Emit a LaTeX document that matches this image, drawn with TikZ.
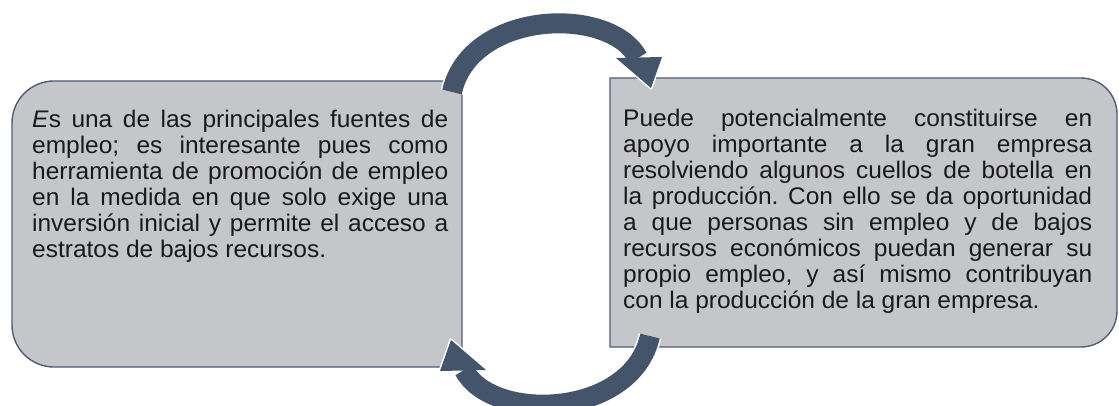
\documentclass[tikz,border=0pt]{standalone}
\usepackage{fontspec}
\setmainfont[FakeStretch=1.02]{Liberation Sans}
\definecolor{boxfill}{RGB}{197,198,202}
\definecolor{boxedge}{RGB}{80,94,118}
\definecolor{arrowcol}{RGB}{68,84,106}
\definecolor{txtcol}{RGB}{25,25,25}
\begin{document}
\frenchspacing
\begin{tikzpicture}[x=1pt,y=-1pt,
  boxshape/.style={fill=boxfill,draw=boxedge,line width=1.4pt},
  txt/.style={inner sep=0pt,anchor=north west,align=left,text=txtcol,
    font=\fontsize{24}{26}\selectfont},
  shaft/.style={draw=arrowcol,line width=20pt},
  halo/.style={draw=white,line width=23pt},
  headfill/.style={fill=arrowcol},
  headhalo/.style={fill=white,draw=white,line width=3pt,line join=round}]
\useasboundingbox (0,0) rectangle (1119,406);
\fill[white] (0,0) rectangle (1119,406);
% left box
\path[boxshape] (462,81) -- (462,367) -- (54,367)
  .. controls (30.8,367) and (12,348.2) .. (12,325) -- (12,123)
  .. controls (12,99.8) and (30.8,81) .. (54,81) -- cycle;
% right box
\path[boxshape] (610,78) -- (1081,78)
  .. controls (1100.9,78) and (1117,94.1) .. (1117,114) -- (1117,311)
  .. controls (1117,330.9) and (1100.9,347) .. (1081,347) -- (610,347) -- cycle;
% texts
\node (lt) [txt] at (32,109) {\rule{0pt}{18pt}\makebox[416pt][s]{\textit{E}s una de las principales fuentes de}\\
\makebox[416pt][s]{empleo; es interesante pues como}\\
\makebox[416pt][s]{herramienta de promoción de empleo}\\
\makebox[416pt][s]{en la medida en que solo exige una}\\
\makebox[416pt][s]{inversión inicial y permite el acceso a}\\
estratos de bajos recursos.};
\node (rt) [txt] at (623,108) {\rule{0pt}{18pt}\makebox[469pt][s]{Puede potencialmente constituirse en}\\
\makebox[469pt][s]{apoyo importante a la gran empresa}\\
\makebox[469pt][s]{resolviendo algunos cuellos de botella en}\\
\makebox[469pt][s]{la producción. Con ello se da oportunidad}\\
\makebox[469pt][s]{a que personas sin empleo y de bajos}\\
\makebox[469pt][s]{recursos económicos puedan generar su}\\
\makebox[469pt][s]{propio empleo, y así mismo contribuyan}\\
con la producción de la gran empresa.};
% arrows (top: left box -> right box; bottom: right box -> left box)
\foreach \ang/\nm in {0/top,180/bot}{
  \begin{scope}[rotate around={\ang:(551,214)}]
    \coordinate (\nm s) at (452,92);
    \coordinate (\nm a) at (470,10);
    \coordinate (\nm b) at (610,5);
    \coordinate (\nm e) at (638,58);
    \coordinate (\nm h1) at (616,58);
    \coordinate (\nm h2) at (662,57);
    \coordinate (\nm t) at (651,88);
  \end{scope}
  \path[halo] (\nm s) .. controls (\nm a) and (\nm b) .. (\nm e);
  \path[headhalo] (\nm h1) -- (\nm h2) -- (\nm t) -- cycle;
  \path[shaft] (\nm s) .. controls (\nm a) and (\nm b) .. (\nm e);
  \path[headfill] (\nm h1) -- (\nm h2) -- (\nm t) -- cycle;
}
\end{tikzpicture}
\end{document}
